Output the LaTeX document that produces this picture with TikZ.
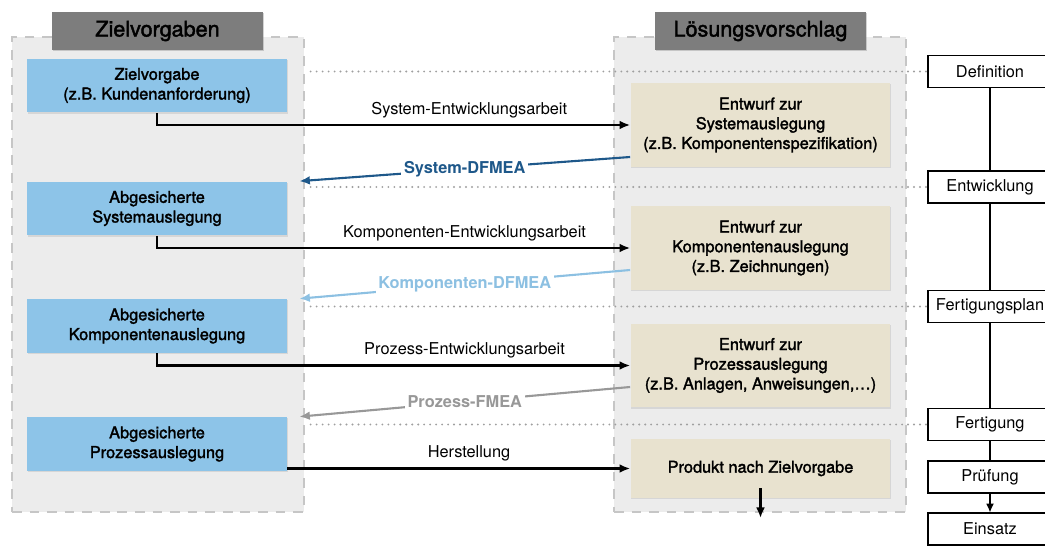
\documentclass[tikz,border=0pt]{standalone}
\usepackage{fontspec}
\setmainfont{TeX Gyre Heros}
\newfontfamily\mittelfont[FakeBold=1.8]{TeX Gyre Heros}
\usetikzlibrary{arrows.meta,calc,shadows}

\definecolor{zielblau}{RGB}{141,196,232}
\definecolor{entwurfbeige}{RGB}{232,226,207}
\definecolor{panelgrau}{RGB}{236,236,236}
\definecolor{kopfgrau}{RGB}{125,125,125}
\definecolor{sysblau}{RGB}{30,88,138}
\definecolor{kompblau}{RGB}{140,192,226}
\definecolor{prozgrau}{RGB}{152,152,152}
\newcommand{\boxfont}{\mittelfont\fontsize{9.3}{11.2}\selectfont}
\newcommand{\lblfont}{\fontsize{9.3}{11.2}\selectfont}

\tikzset{
  panel/.style={draw=gray!45, fill=panelgrau, line width=0.8pt, dash pattern=on 5.5pt off 4.5pt,
    minimum width=5.84cm, minimum height=9.5cm},
  kopf/.style={fill=kopfgrau, minimum width=4.22cm, minimum height=0.76cm,
    font=\mittelfont\fontsize{12.3}{14}\selectfont,
    drop shadow={opacity=0.35, shadow xshift=0.4pt, shadow yshift=-0.8pt}},
  ziel/.style={fill=zielblau, minimum width=5.2cm, minimum height=1.08cm, align=center, font=\boxfont,
    drop shadow={opacity=0.2, shadow xshift=0.3pt, shadow yshift=-0.6pt}},
  entwurf/.style={fill=entwurfbeige, minimum width=5.2cm, minimum height=1.68cm, align=center, font=\boxfont,
    drop shadow={opacity=0.2, shadow xshift=0.3pt, shadow yshift=-0.6pt}},
  phase/.style={draw, line width=0.6pt, fill=white, minimum width=2.48cm, minimum height=0.64cm, font=\lblfont},
  arbeit/.style={line width=1.25pt},
  lbl/.style={above, font=\lblfont},
  fmea/.style={line width=1.2pt},
  fmealbl/.style={fill=white, inner sep=1.6pt, font=\bfseries\lblfont},
  trenn/.style={gray!75, line width=1.2pt, line cap=round, dash pattern=on 0pt off 3.4pt}
}

\begin{document}
\begin{tikzpicture}[x=0.02cm, y=-0.02cm, >={Latex[length=6pt,width=5pt]}]
        \useasboundingbox (0,0) rectangle (1045,547);
        % Spalten
        \node[panel] (lpanel) at (158,274.5) {};
        \node[panel] (rpanel) at (760,274.5) {};
        \node[kopf] (zielkopf) at (157.5,31) {Zielvorgaben};
        \node[kopf] (loeskopf) at (760.5,31) {Lösungsvorschlag};
        % Phasen rechts
        \node[phase] (def) at (990,71.5) {Definition};
        \node[phase] (entw) at (990,187) {Entwicklung};
        \node[phase] (fplan) at (990,306.5) {Fertigungsplan};
        \node[phase] (fert) at (990,424.5) {Fertigung};
        \node[phase] (pruef) at (990,477) {Prüfung};
        \node[phase] (einsatz) at (990,529) {Einsatz};
        \draw[line width=0.8pt] (def) -- (entw);
        \draw[line width=0.8pt] (entw) -- (fplan);
        \draw[line width=0.8pt] (fplan) -- (fert);
        \draw[line width=0.8pt] (fert) -- (pruef);
        \draw[line width=0.8pt,->,>={Latex[length=5pt,width=4.5pt]}] (pruef) -- (einsatz);
        \foreach \p in {def,entw,fplan,fert}
          \draw[trenn] (\p.west -| lpanel.east) ++(6,0) -- (\p.west);
        % Zielvorgaben
        \node[ziel] (zv) at (157,85.5) {Zielvorgabe\\(z.B. Kundenanforderung)};
        \node[ziel] (sys) at (157,208.5) {Abgesicherte\\Systemauslegung};
        \node[ziel] (komp) at (157,326) {Abgesicherte\\Komponentenauslegung};
        \node[ziel] (proz) at (157,444) {Abgesicherte\\Prozessauslegung};
        % Entwuerfe
        \node[entwurf] (esys) at (760.5,125) {Entwurf zur\\Systemauslegung\\(z.B. Komponentenspezifikation)};
        \node[entwurf] (ekomp) at (760.5,248) {Entwurf zur\\Komponentenauslegung\\(z.B. Zeichnungen)};
        \node[entwurf] (eproz) at (760.5,365.5) {Entwurf zur\\Prozessauslegung\\(z.B. Anlagen, Anweisungen,…)};
        \node[entwurf, minimum height=1.18cm] (prod) at (760.5,468.5) {Produkt nach Zielvorgabe};
        % Entwicklungsarbeit
        \draw[arbeit,->] (zv.south) |- (esys.west) node[lbl, pos=0.83] {System-Entwicklungsarbeit};
        \draw[arbeit,->] (sys.south) |- (ekomp.west) node[lbl, pos=0.825] {Komponenten-Entwicklungsarbeit};
        \draw[arbeit,->] (komp.south) |- (eproz.west) node[lbl, pos=0.825] {Prozess-Entwicklungsarbeit};
        \draw[arbeit,->] (proz.east |- prod.west) -- (prod.west) node[lbl, pos=0.53] {Herstellung};
        \coordinate (prodend) at (760.5,518);
        \draw[arbeit,->] ($(prod.south)+(0,-10)$) -- (prodend);
        % FMEA
        \draw[fmea,sysblau,->] ($(esys.west)+(0,32)$) -- ($(sys.north east)+(12,0)$)
          node[fmealbl, text=sysblau, midway] {System-DFMEA};
        \draw[fmea,kompblau,->] ($(ekomp.west)+(0,22)$) -- ($(komp.north east)+(12,0)$)
          node[fmealbl, text=kompblau, midway] {Komponenten-DFMEA};
        \draw[fmea,prozgrau,->] ($(eproz.west)+(0,21.5)$) -- ($(proz.north east)+(12,0)$)
          node[fmealbl, text=prozgrau, midway] {Prozess-FMEA};
\end{tikzpicture}
\end{document}
